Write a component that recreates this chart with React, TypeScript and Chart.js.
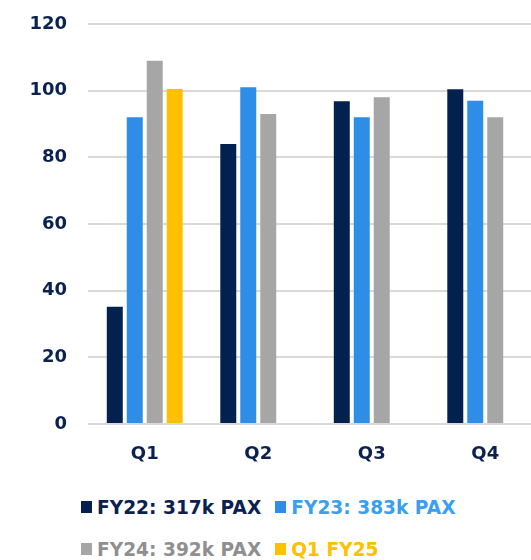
import React, { useEffect, useRef } from "react";
import { Chart, registerables } from "chart.js";

Chart.register(...registerables);

const categories = ["Q1", "Q2", "Q3", "Q4"];
const fy22 = [35.2, 84, 96.8, 100.4];
const fy23 = [92, 101, 92, 97];
const fy24 = [109, 93, 98, 92];
const q1fy25 = [100.5, null, null, null];
const seriesLabels = ["FY22: 317k PAX", "FY23: 383k PAX", "FY24: 392k PAX", "Q1 FY25"];
const barColors = ["#02214f", "#2e8de6", "#a6a6a6", "#ffc000"];
const textColors = ["#0b2150", "#3a9ff0", "#8f8f8f", "#ffc000"];
const yTicks = [0, 20, 40, 60, 80, 100, 120];

const FONT = "'DejaVu Sans', sans-serif";

export default function App() {
  const ref = useRef<HTMLCanvasElement | null>(null);

  useEffect(() => {
    document.body.style.overflow = "hidden";
    const canvas = ref.current;
    if (!canvas) return;
    const data = [fy22, fy23, fy24, q1fy25];
    const chart = new Chart(canvas, {
      type: "bar",
      data: {
        labels: categories,
        datasets: data.map((d, i) => ({
          label: seriesLabels[i],
          data: d,
          backgroundColor: barColors[i],
          borderWidth: 0,
          categoryPercentage: 0.704,
          barPercentage: 0.8,
        })),
      },
      options: {
        animation: false,
        responsive: false,
        maintainAspectRatio: false,
        layout: { padding: { top: 24, right: 0, bottom: 0, left: 0 } },
        plugins: { legend: { display: false }, tooltip: { enabled: false } },
        scales: {
          x: {
            grid: { display: false },
            border: { display: false },
            ticks: {
              color: "#0b2150",
              font: { family: FONT, size: 18, weight: "bold" },
              padding: 12,
            },
            afterFit: (s: any) => {
              s.height = 46;
            },
          },
          y: {
            min: 0,
            max: 120,
            afterBuildTicks: (s: any) => {
              s.ticks = yTicks.map((v) => ({ value: v }));
            },
            grid: { color: "#d9d9d9", lineWidth: 2, drawTicks: false },
            border: { display: false },
            ticks: {
              color: "#0b2150",
              font: { family: FONT, size: 18, weight: "bold" },
              padding: 21,
            },
            afterFit: (s: any) => {
              s.width = 88;
              s.paddingTop = 0;
              s.paddingBottom = 0;
            },
          },
        },
      },
    });
    return () => chart.destroy();
  }, []);

  const item = (i: number) => (
    <div style={{ display: "flex", alignItems: "center", marginRight: 14 }}>
      <div style={{ width: 11, height: 12, background: barColors[i], marginRight: 5 }} />
      <span style={{ color: textColors[i], fontFamily: FONT, fontWeight: "bold", fontSize: 18.6, whiteSpace: "nowrap" }}>
        {seriesLabels[i]}
      </span>
    </div>
  );

  return (
    <div style={{ position: "absolute", left: 0, top: 0, width: 542, height: 560, background: "#fff" }}>
      <canvas ref={ref} width={542} height={470} style={{ position: "absolute", left: 0, top: 0, width: 542, height: 470 }} />
      <div style={{ position: "absolute", left: 81, top: 493, display: "flex", height: 28 }}>
        {item(0)}
        {item(1)}
      </div>
      <div style={{ position: "absolute", left: 81, top: 535, display: "flex", height: 28 }}>
        {item(2)}
        {item(3)}
      </div>
    </div>
  );
}
